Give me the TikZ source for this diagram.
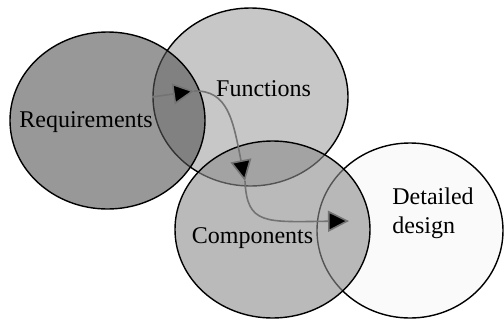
\documentclass[tikz,border=0pt]{standalone}
\usepackage{fontspec}
\setmainfont{Liberation Serif}
\usetikzlibrary{arrows.meta,shapes.geometric}

\tikzset{
  blob/.style={ellipse, draw, line width=0.7pt, fill opacity=0.6, inner sep=0pt},
  word/.style={font=\fontsize{12}{14.4}\selectfont, inner sep=0pt},
  flow/.style={draw=black!55, line width=0.8pt,
    -{Triangle[length=10.5pt,width=10.5pt,fill=black]}}
}

\begin{document}
\begin{tikzpicture}[x=0.5pt,y=-0.5pt]
        \useasboundingbox (0,0) rectangle (504,322);

        % the four stages
        \node[blob, fill=black!37, minimum width=97.5pt, minimum height=89pt] (func) at (250.5,97) {};
        \node[blob, fill=black!67, minimum width=97.5pt, minimum height=88.5pt] (req) at (107.5,120.5) {};
        \node[blob, fill=black!3, minimum width=93pt, minimum height=87.5pt] (det) at (410,230.5) {};
        \node[blob, fill=black!45, minimum width=97.5pt, minimum height=88.5pt] (comp) at (272.5,229.5) {};

        \node[word, anchor=base] (reqtxt) at (86,127.7) {Requirements};
        \node[word, anchor=base] (functxt) at (263.5,96) {Functions};
        \node[word, anchor=base] (comptxt) at (252.5,243) {Components};
        \node[word, anchor=north west, align=left] (dettxt) at (392,187.6) {Detailed\\design};

        % flow through the stages
        \coordinate (r0) at (152,97);
        \coordinate (f0) at (194,91);
        \coordinate (c0) at (245,181);
        \coordinate (d0) at (349,221);

        \draw[flow] (r0) -- (f0);
        \draw[flow] (f0) .. controls (228,90) and (233,120) .. (c0);
        \draw[flow] (c0) .. controls (247,225) and (265,222) .. (d0);
\end{tikzpicture}
\end{document}
